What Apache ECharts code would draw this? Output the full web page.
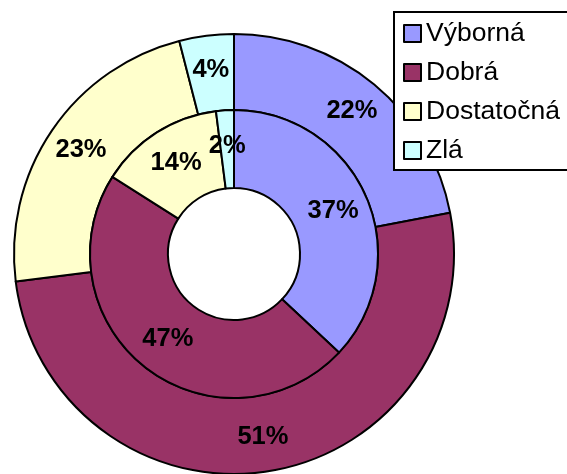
<!DOCTYPE html>
<html>
<head>
<meta charset="utf-8">
<script src="https://cdn.jsdelivr.net/npm/echarts@6/dist/echarts.min.js"></script>
<style>
html,body{margin:0;padding:0;background:#fff;}
#chart{width:567px;height:474px;}
</style>
</head>
<body>
<div id="chart"></div>
<script>
const categories = ['Výborná', 'Dobrá', 'Dostatočná', 'Zlá'];
const outerValues = [22, 51, 23, 4];
const innerValues = [37, 47, 14, 2];
const colors = ['#9999FF', '#993366', '#FFFFCC', '#CCFFFF'];

const chart = echarts.init(document.getElementById('chart'), null, {renderer: 'canvas'});

function makeData(values) {
  return categories.map((name, i) => ({
    name: name,
    value: values[i],
    itemStyle: { color: colors[i] }
  }));
}

const labelStyle = {
  show: true,
  position: 'inside',
  formatter: '{c}%',
  color: '#000',
  fontFamily: 'Liberation Sans, Arial, sans-serif',
  fontWeight: 'bold',
  fontSize: 25.5
};

chart.setOption({
  animation: false,
  backgroundColor: '#fff',
  legend: {
    orient: 'vertical',
    left: 394,
    top: 12,
    data: categories,
    backgroundColor: '#fff',
    borderColor: '#000',
    borderWidth: 2,
    padding: [8, 20, 6, 9],
    itemWidth: 17,
    itemHeight: 17,
    itemGap: 12,
    icon: 'rect',
    itemStyle: { borderColor: '#000', borderWidth: 2 },
    textStyle: {
      fontFamily: 'Liberation Sans, Arial, sans-serif',
      fontSize: 26.5,
      lineHeight: 26,
      color: '#000',
      padding: [1, 0, 0, 0]
    },
    selectedMode: false
  },
  series: [
    {
      type: 'pie',
      center: [234, 254],
      radius: [144, 220],
      startAngle: 90,
      clockwise: true,
      avoidLabelOverlap: false,
      label: labelStyle,
      labelLine: { show: false },
      itemStyle: { borderColor: '#000', borderWidth: 2 },
      emphasis: { disabled: true },
      data: makeData(outerValues)
    },
    {
      type: 'pie',
      center: [234, 254],
      radius: [66, 144],
      startAngle: 90,
      clockwise: true,
      avoidLabelOverlap: false,
      label: labelStyle,
      labelLine: { show: false },
      itemStyle: { borderColor: '#000', borderWidth: 2 },
      emphasis: { disabled: true },
      data: makeData(innerValues)
    }
  ]
});
</script>
</body>
</html>
